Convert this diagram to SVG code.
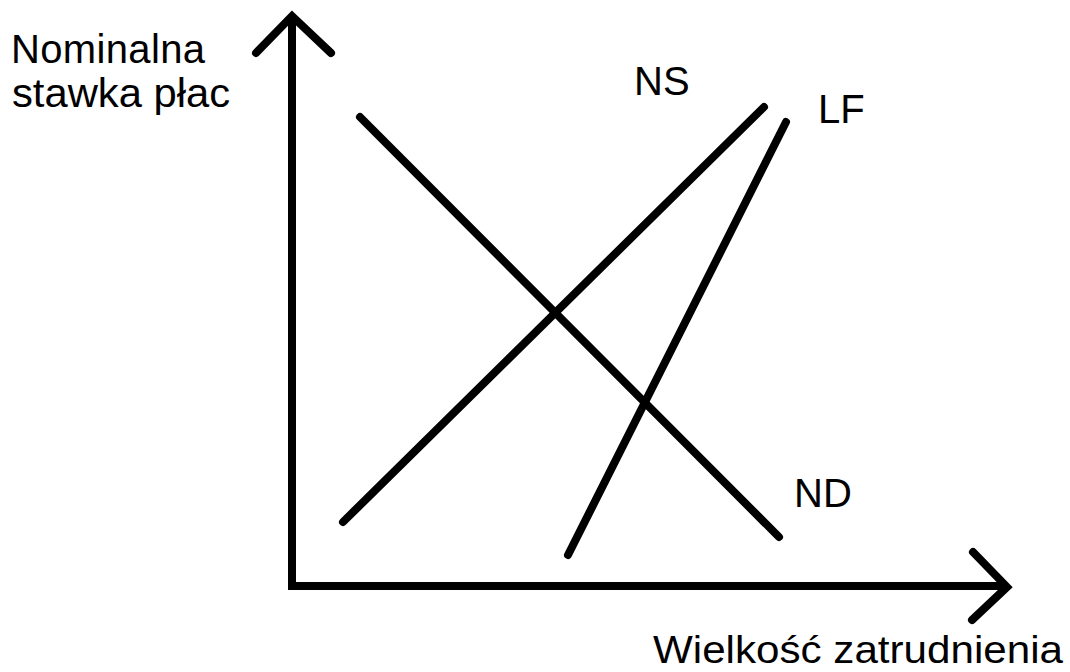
<svg xmlns="http://www.w3.org/2000/svg" width="1070" height="672" viewBox="0 0 1070 672">
<style>
.ln{stroke:#000;stroke-width:8;fill:none;stroke-linecap:round;stroke-linejoin:miter}
.t{font-family:"Liberation Sans",Arial,sans-serif;font-size:40px;fill:#000}
</style>
<rect width="1070" height="672" fill="#fff"/>
<g id="axes">
<path class="ln" d="M292,18 V586 H1004"/>
<path class="ln" d="M256,53 L292,16 L331,53"/>
<path class="ln" d="M973,552 L1007,587 L972,620"/>
</g>
<g id="connectors">
<path id="ND" class="ln" d="M360,117 L779,537"/>
<path id="NS" class="ln" d="M343,522 L764,107"/>
<path id="LF" class="ln" d="M568,555 L786,122"/>
</g>
<g id="labels">
<text class="t" x="11" y="63" textLength="194">Nominalna</text>
<text class="t" x="12" y="107" textLength="218" lengthAdjust="spacingAndGlyphs">stawka płac</text>
<text class="t" x="634" y="95">NS</text>
<text class="t" x="818" y="123">LF</text>
<text class="t" x="794" y="507">ND</text>
<text class="t" x="653" y="663" style="font-size:38px" textLength="410" lengthAdjust="spacingAndGlyphs">Wielkość zatrudnienia</text>
</g>
</svg>
